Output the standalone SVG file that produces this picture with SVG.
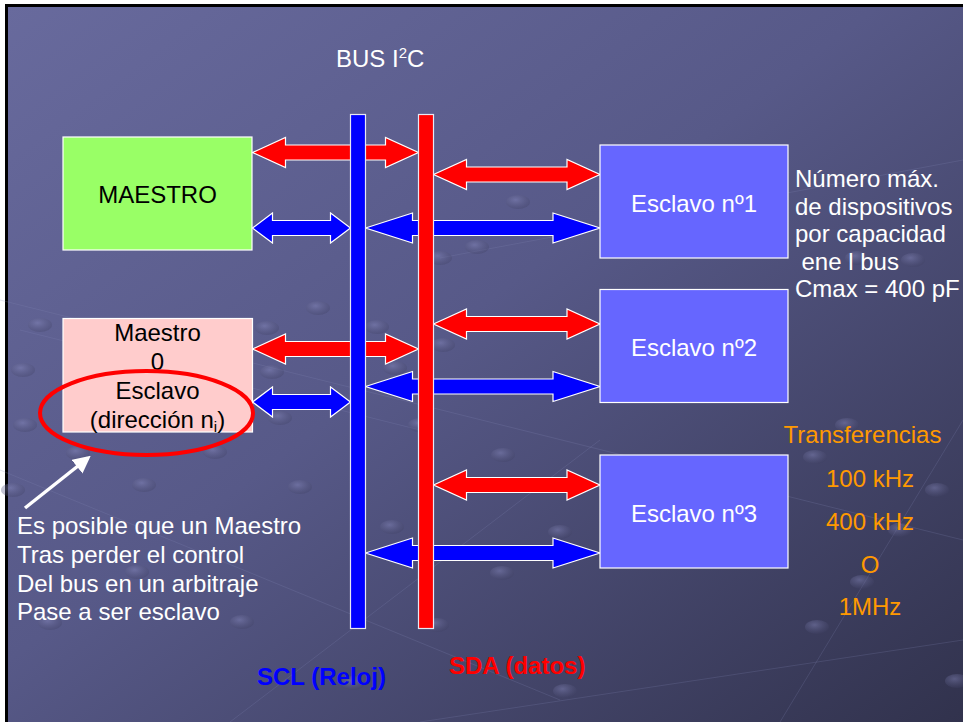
<svg xmlns="http://www.w3.org/2000/svg" width="963" height="722" viewBox="0 0 963 722">
  <defs>
    <linearGradient id="slideBg" x1="0" y1="0" x2="1" y2="1">
      <stop offset="0" stop-color="#686a9d"/>
      <stop offset="0.45" stop-color="#575988"/>
      <stop offset="1" stop-color="#30314b"/>
    </linearGradient>
    <radialGradient id="bubble" cx="0.4" cy="0.35" r="0.7">
      <stop offset="0" stop-color="#8a8cc0" stop-opacity="0.45"/>
      <stop offset="1" stop-color="#3a3b5c" stop-opacity="0.3"/>
    </radialGradient>
    <marker id="whiteHead" viewBox="0 0 10 10" refX="8" refY="5" markerWidth="5" markerHeight="5" orient="auto">
      <path d="M0,0 L10,5 L0,10 Z" fill="#ffffff"/>
    </marker>
    <style>
      .txt { font-family: "Liberation Sans", Arial, sans-serif; font-size: 24px; }
      .dark { fill: #000000; }
      .white { fill: #ffffff; }
      .orange { fill: #ff9900; }
      .box { stroke: #ffffff; stroke-width: 1.2; }
      .bus { stroke: #e8e8f4; stroke-width: 1.2; }
      .arrowR { fill: #ff0000; stroke: #ffffff; stroke-width: 1.2; stroke-linejoin: miter; }
      .arrowB { fill: #0000ff; stroke: #ffffff; stroke-width: 1.2; stroke-linejoin: miter; }
      .deco line { stroke: #8587b8; stroke-opacity: 0.22; stroke-width: 1; }
      .deco ellipse { fill: url(#bubble); }
    </style>
  </defs>

  <!-- slide background -->
  <rect x="0" y="0" width="963" height="722" fill="#ffffff"/>
  <rect x="6.5" y="5.5" width="970" height="730" fill="url(#slideBg)" stroke="#000000" stroke-width="3"/>

  <!-- background network texture -->
  <g class="deco">
    <line x1="0" y1="300" x2="963" y2="540"/>
    <line x1="0" y1="470" x2="560" y2="700"/>
    <line x1="230" y1="722" x2="600" y2="440"/>
    <line x1="780" y1="722" x2="963" y2="420"/>
    <line x1="420" y1="722" x2="963" y2="640"/>
    <line x1="440" y1="258" x2="963" y2="160"/>
    <line x1="20" y1="330" x2="420" y2="430"/>
    <ellipse cx="440" cy="258" rx="12" ry="7"/>
    <ellipse cx="477" cy="247" rx="12" ry="7"/>
    <ellipse cx="518" cy="202" rx="12" ry="7"/>
    <ellipse cx="857" cy="258" rx="12" ry="7"/>
    <ellipse cx="913" cy="260" rx="12" ry="7"/>
    <ellipse cx="318" cy="308" rx="12" ry="7"/>
    <ellipse cx="267" cy="328" rx="12" ry="7"/>
    <ellipse cx="377" cy="327" rx="12" ry="7"/>
    <ellipse cx="272" cy="372" rx="12" ry="7"/>
    <ellipse cx="395" cy="368" rx="12" ry="7"/>
    <ellipse cx="443" cy="345" rx="12" ry="7"/>
    <ellipse cx="280" cy="418" rx="12" ry="7"/>
    <ellipse cx="420" cy="425" rx="12" ry="7"/>
    <ellipse cx="40" cy="325" rx="12" ry="7"/>
    <ellipse cx="23" cy="370" rx="12" ry="7"/>
    <ellipse cx="25" cy="425" rx="12" ry="7"/>
    <ellipse cx="78" cy="453" rx="12" ry="7"/>
    <ellipse cx="215" cy="452" rx="12" ry="7"/>
    <ellipse cx="144" cy="485" rx="12" ry="7"/>
    <ellipse cx="300" cy="487" rx="12" ry="7"/>
    <ellipse cx="13" cy="490" rx="12" ry="7"/>
    <ellipse cx="137" cy="572" rx="12" ry="7"/>
    <ellipse cx="50" cy="623" rx="12" ry="7"/>
    <ellipse cx="242" cy="622" rx="12" ry="7"/>
    <ellipse cx="437" cy="625" rx="12" ry="7"/>
    <ellipse cx="353" cy="683" rx="12" ry="7"/>
    <ellipse cx="565" cy="691" rx="12" ry="7"/>
    <ellipse cx="503" cy="455" rx="12" ry="7"/>
    <ellipse cx="392" cy="527" rx="12" ry="7"/>
    <ellipse cx="560" cy="532" rx="12" ry="7"/>
    <ellipse cx="502" cy="573" rx="12" ry="7"/>
    <ellipse cx="847" cy="425" rx="12" ry="7"/>
    <ellipse cx="815" cy="457" rx="12" ry="7"/>
    <ellipse cx="937" cy="490" rx="12" ry="7"/>
    <ellipse cx="900" cy="530" rx="12" ry="7"/>
    <ellipse cx="862" cy="582" rx="12" ry="7"/>
    <ellipse cx="817" cy="627" rx="12" ry="7"/>
    <ellipse cx="957" cy="681" rx="12" ry="7"/>
  </g>

  <!-- title -->
  <text class="txt white" x="336" y="67" font-size="25">BUS I<tspan font-size="15" dy="-9">2</tspan><tspan dy="9">C</tspan></text>

  <!-- bus connections -->
  <g id="connectors">
    <!-- MAESTRO -> SDA / SCL -->
    <path class="arrowR" d="M252.5,152.5 L285.5,137.5 L285.5,145 L385.5,145 L385.5,137.5 L418.5,152.5 L385.5,167.5 L385.5,160 L285.5,160 L285.5,167.5 Z"/>
    <path class="arrowB" d="M252.5,228 L272.5,213 L272.5,220.5 L330.5,220.5 L330.5,213 L350.5,228 L330.5,243 L330.5,235.5 L272.5,235.5 L272.5,243 Z"/>
    <!-- Esclavo nº1 -->
    <path class="arrowR" d="M433.5,174.5 L466.5,159.5 L466.5,167 L567,167 L567,159.5 L600,174.5 L567,189.5 L567,182 L466.5,182 L466.5,189.5 Z"/>
    <path class="arrowB" d="M365.5,228 L412.5,213 L412.5,220.5 L553,220.5 L553,213 L600,228 L553,243 L553,235.5 L412.5,235.5 L412.5,243 Z"/>
    <!-- Maestro 0 / Esclavo -->
    <path class="arrowR" d="M252.5,349 L285.5,334 L285.5,341.5 L385.5,341.5 L385.5,334 L418.5,349 L385.5,364 L385.5,356.5 L285.5,356.5 L285.5,364 Z"/>
    <path class="arrowB" d="M252.5,402 L272.5,387 L272.5,394.5 L330.5,394.5 L330.5,387 L350.5,402 L330.5,417 L330.5,409.5 L272.5,409.5 L272.5,417 Z"/>
    <!-- Esclavo nº2 -->
    <path class="arrowR" d="M433.5,324 L466.5,309 L466.5,316.5 L567,316.5 L567,309 L600,324 L567,339 L567,331.5 L466.5,331.5 L466.5,339 Z"/>
    <path class="arrowB" d="M365.5,386.5 L412.5,371.5 L412.5,379 L553,379 L553,371.5 L600,386.5 L553,401.5 L553,394 L412.5,394 L412.5,401.5 Z"/>
    <!-- Esclavo nº3 -->
    <path class="arrowR" d="M433.5,485 L466.5,470 L466.5,477.5 L567,477.5 L567,470 L600,485 L567,500 L567,492.5 L466.5,492.5 L466.5,500 Z"/>
    <path class="arrowB" d="M365.5,553 L412.5,538 L412.5,545.5 L553,545.5 L553,538 L600,553 L553,568 L553,560.5 L412.5,560.5 L412.5,568 Z"/>
    <!-- pointer to the circled slave role -->
    <line x1="25" y1="508" x2="88" y2="458" stroke="#ffffff" stroke-width="3.5" marker-end="url(#whiteHead)"/>
  </g>

  <!-- bus lines -->
  <g id="bus-scl">
    <rect class="bus" x="350.5" y="114.5" width="15" height="514" fill="#0000ff"/>
  </g>
  <g id="bus-sda">
    <rect class="bus" x="418.5" y="114.5" width="15" height="514" fill="#ff0000"/>
  </g>

  <g id="maestro">
    <rect class="box" x="63" y="137" width="189" height="113" fill="#99ff66"/>
    <text class="txt dark" x="157.5" y="203" text-anchor="middle">MAESTRO</text>
  </g>

  <g id="maestro0">
    <rect class="box" x="63" y="318.5" width="189.5" height="113.5" fill="#ffcccc"/>
    <text class="txt dark" x="157.5" y="341" text-anchor="middle">Maestro</text>
    <text class="txt dark" x="157.5" y="370" text-anchor="middle">0</text>
    <text class="txt dark" x="157.5" y="399" text-anchor="middle">Esclavo</text>
    <text class="txt dark" x="157.5" y="428" text-anchor="middle">(dirección n<tspan font-size="15" dy="4">i</tspan><tspan dy="-4">)</tspan></text>
    <ellipse cx="146.5" cy="413" rx="106.5" ry="42" fill="none" stroke="#ff0000" stroke-width="4"/>
  </g>

  <g id="esclavo1">
    <rect class="box" x="600" y="145" width="188" height="113" fill="#6666ff"/>
    <text class="txt white" x="694" y="212" text-anchor="middle">Esclavo nº1</text>
  </g>
  <g id="esclavo2">
    <rect class="box" x="600" y="289.5" width="188" height="113" fill="#6666ff"/>
    <text class="txt white" x="694" y="356" text-anchor="middle">Esclavo nº2</text>
  </g>
  <g id="esclavo3">
    <rect class="box" x="600" y="455" width="188" height="113" fill="#6666ff"/>
    <text class="txt white" x="694" y="522" text-anchor="middle">Esclavo nº3</text>
  </g>

  <!-- capacity note -->
  <g id="capacity-note">
    <text class="txt white" x="795" y="187">Número máx.</text>
    <text class="txt white" x="795" y="214.5">de dispositivos</text>
    <text class="txt white" x="795" y="242">por capacidad</text>
    <text class="txt white" x="801.5" y="269.5">ene l bus</text>
    <text class="txt white" x="795" y="297">Cmax = 400 pF</text>
  </g>

  <!-- transfer rates -->
  <g id="rates">
    <text class="txt orange" x="862.5" y="443" text-anchor="middle">Transferencias</text>
    <text class="txt orange" x="870" y="487" text-anchor="middle">100 kHz</text>
    <text class="txt orange" x="870" y="530" text-anchor="middle">400 kHz</text>
    <text class="txt orange" x="870" y="573" text-anchor="middle">O</text>
    <text class="txt orange" x="870" y="615" text-anchor="middle">1MHz</text>
  </g>

  <!-- arbitration note -->
  <g id="arbitration-note">
    <text class="txt white" x="17" y="534">Es posible que un Maestro</text>
    <text class="txt white" x="17" y="563">Tras perder el control</text>
    <text class="txt white" x="17" y="592">Del bus en un arbitraje</text>
    <text class="txt white" x="17" y="620">Pase a ser esclavo</text>
  </g>

  <!-- bus labels -->
  <text class="txt" x="257" y="685" font-weight="bold" fill="#0000ff">SCL (Reloj)</text>
  <text class="txt" x="449" y="674" font-weight="bold" fill="#ff0000">SDA (datos)</text>
</svg>
